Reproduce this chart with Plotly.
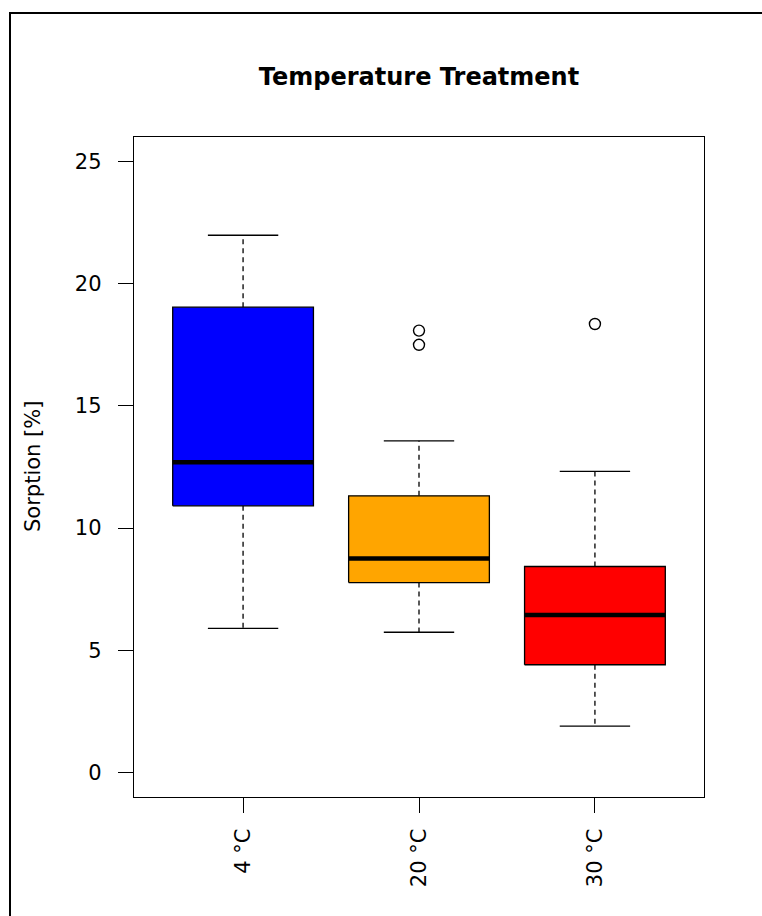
import plotly.graph_objects as go

# Summary statistics of sorption per temperature treatment
categories = ["4 °C", "20 °C", "30 °C"]
lower_whisker = [5.90, 5.74, 1.90]
q1 = [10.91, 7.77, 4.41]
median = [12.69, 8.76, 6.45]
q3 = [19.04, 11.32, 8.43]
upper_whisker = [21.98, 13.57, 12.32]
outliers = [[], [18.08, 17.50], [18.35]]
fill_colors = ["#0000FF", "#FFA500", "#FF0000"]

y_ticks = [0, 5, 10, 15, 20, 25]

BOX_HALF = 0.4      # half of box width (boxwex 0.8)
CAP_HALF = 0.2      # half of staple width
FONT = "DejaVu Sans, Liberation Sans, Arial, sans-serif"

fig = go.Figure()

for i, cat in enumerate(categories):
    x = i + 1
    # dashed whiskers
    fig.add_trace(go.Scatter(
        x=[x, x, None, x, x],
        y=[q3[i], upper_whisker[i], None, q1[i], lower_whisker[i]],
        mode="lines", line=dict(color="black", width=1.3, dash="5px,4px"),
        hoverinfo="skip", showlegend=False))
    # staples
    fig.add_trace(go.Scatter(
        x=[x - CAP_HALF, x + CAP_HALF, None, x - CAP_HALF, x + CAP_HALF],
        y=[upper_whisker[i], upper_whisker[i], None, lower_whisker[i], lower_whisker[i]],
        mode="lines", line=dict(color="black", width=1.3),
        hoverinfo="skip", showlegend=False))
    # box
    fig.add_trace(go.Scatter(
        x=[x - BOX_HALF, x + BOX_HALF, x + BOX_HALF, x - BOX_HALF, x - BOX_HALF],
        y=[q1[i], q1[i], q3[i], q3[i], q1[i]],
        mode="lines", fill="toself", fillcolor=fill_colors[i],
        line=dict(color="black", width=1.3),
        hoverinfo="skip", showlegend=False))
    # median
    fig.add_trace(go.Scatter(
        x=[x - BOX_HALF, x + BOX_HALF], y=[median[i], median[i]],
        mode="lines", line=dict(color="black", width=4.5),
        hoverinfo="skip", showlegend=False))
    # outliers
    if outliers[i]:
        fig.add_trace(go.Scatter(
            x=[x] * len(outliers[i]), y=outliers[i], mode="markers",
            marker=dict(symbol="circle-open", size=11, color="black",
                        line=dict(width=1.4, color="black")),
            hoverinfo="skip", showlegend=False))

W, H = 762, 916
L, R, T, B = 134, 58, 137, 119
pw, ph = W - L - R, H - T - B

fig.update_layout(
    width=W, height=H,
    margin=dict(l=L, r=R, t=T, b=B),
    paper_bgcolor="white", plot_bgcolor="white",
    font=dict(family=FONT, color="black", size=21),
    title=dict(text="<b>Temperature Treatment</b>", font=dict(size=24, family=FONT),
               x=0.5, xref="paper", xanchor="center",
               y=1 - 77 / H, yref="container", yanchor="middle"),
    xaxis=dict(range=[0.38, 3.62], tickvals=[1, 2, 3], ticktext=categories,
               tickangle=-90, ticks="outside", ticklen=15, tickwidth=1.4,
               tickcolor="black", showline=True, linecolor="black", linewidth=1.4,
               mirror=True, showgrid=False, zeroline=False,
               ticklabelstandoff=7, tickfont=dict(size=21)),
    yaxis=dict(range=[-1, 26], tickvals=y_ticks, ticks="outside", ticklen=15,
               tickwidth=1.4, tickcolor="black", showline=True, linecolor="black",
               linewidth=1.4, mirror=True, showgrid=False, zeroline=False,
               ticklabelstandoff=12, tickfont=dict(size=21)),
    annotations=[dict(text="Sorption [%]", textangle=-90, showarrow=False,
                      xref="paper", yref="paper", x=(33 - L) / pw, y=0.5,
                      xanchor="center", yanchor="middle", font=dict(size=21))],
    shapes=[dict(type="rect", xref="paper", yref="paper",
                 x0=(10 - L) / pw, x1=(W + 10 - L) / pw,
                 y0=(H - B - (H + 10)) / ph, y1=(H - B - 13) / ph,
                 line=dict(color="black", width=2), layer="above")],
)

fig.write_html("out.html")
